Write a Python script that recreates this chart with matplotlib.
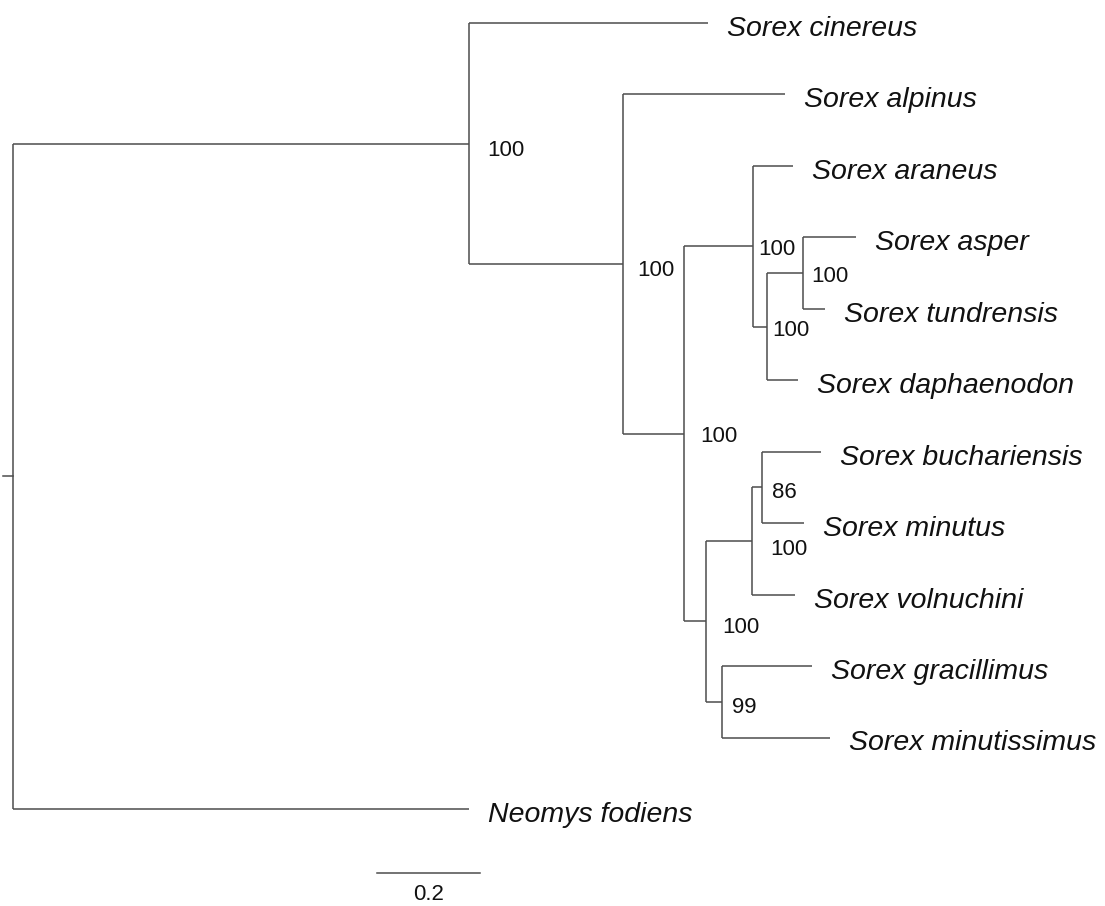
import matplotlib
matplotlib.use("Agg")
import matplotlib.pyplot as plt

# ---- tree data (branch lengths, scale bar = 0.2) ----
# internal nodes: name, parent, branch length, bootstrap support
node_names   = ["root", "A", "B", "C", "D", "E", "F", "G", "H", "I", "K"]
node_parent  = [None, "root", "A", "B", "C", "D", "E", "C", "G", "H", "G"]
node_length  = [0.0, 0.878, 0.296, 0.117, 0.133, 0.027, 0.069, 0.042, 0.090, 0.019, 0.031]
node_support = [None, "100", "100", "100", "100", "100", "100", "100", "100", "86", "99"]

# tips, in drawing order from top to bottom
tip_names  = ["Sorex cinereus", "Sorex alpinus", "Sorex araneus", "Sorex asper",
              "Sorex tundrensis", "Sorex daphaenodon", "Sorex buchariensis",
              "Sorex minutus", "Sorex volnuchini", "Sorex gracillimus",
              "Sorex minutissimus", "Neomys fodiens"]
tip_parent = ["A", "B", "D", "F", "F", "E", "I", "I", "H", "K", "K", "root"]
tip_length = [0.460, 0.312, 0.077, 0.102, 0.042, 0.060, 0.113, 0.081, 0.081,
              0.173, 0.208, 0.878]

scale_len = 0.2

# support label nudges (pixels right of node, pixels of baseline below node)
label_dx = {"A": 18, "B": 14, "C": 16, "D": 5, "E": 5, "F": 8,
            "G": 17, "H": 18, "I": 10, "K": 10}
label_dy = {"A": 12, "B": 12, "C": 8.5, "D": 9, "E": 9.5, "F": 9,
            "G": 12, "H": 13.5, "I": 10.5, "K": 11}

LINE = "#4d4d4d"
TXT = "#111111"

# x position (depth) of every node and tip
xpos = {}
for name, par, ln in zip(node_names, node_parent, node_length):
    xpos[name] = ln if par is None else xpos[par] + ln
for name, par, ln in zip(tip_names, tip_parent, tip_length):
    xpos[name] = xpos[par] + ln

# children lists
children = {n: [] for n in node_names}
for name, par in zip(node_names, node_parent):
    if par is not None:
        children[par].append(name)
for name, par in zip(tip_names, tip_parent):
    children[par].append(name)

# y position: tips evenly spaced, internal node = middle of its children
ypos = {name: i for i, name in enumerate(tip_names)}
def get_y(n):
    if n not in ypos:
        ys = [get_y(c) for c in children[n]]
        ypos[n] = (min(ys) + max(ys)) / 2.0
    return ypos[n]
for n in node_names:
    get_y(n)

fig = plt.figure(figsize=(11.05, 9.06), dpi=100)
ax = fig.add_axes([0, 0, 1, 1])
ax.set_xlim(-12.5 / 520, (1105 - 12.5) / 520)
ax.set_ylim((906 - 23) / 71.45, -23 / 71.45)
ax.axis("off")

# edges: vertical at each internal node, horizontal to every child
for n in node_names:
    ys = [ypos[c] for c in children[n]]
    ax.plot([xpos[n], xpos[n]], [min(ys), max(ys)], color=LINE, lw=1.1,
            solid_capstyle="butt")
    for c in children[n]:
        ax.plot([xpos[n], xpos[c]], [ypos[c], ypos[c]], color=LINE, lw=1.1,
                solid_capstyle="butt")

# short root edge
ax.plot([xpos["root"] - 0.019, xpos["root"]], [ypos["root"]] * 2, color=LINE, lw=1.1)

# tip labels
for name in tip_names:
    ax.annotate(name, (xpos[name], ypos[name]), xytext=(19, -13),
                textcoords="offset pixels", ha="left", va="baseline",
                fontsize=20.5, fontstyle="italic", family="Liberation Sans",
                color=TXT)

# support values
for name, sup in zip(node_names, node_support):
    if sup is None:
        continue
    ax.annotate(sup, (xpos[name], ypos[name]),
                xytext=(label_dx[name], -label_dy[name]),
                textcoords="offset pixels", ha="left", va="baseline",
                fontsize=16, family="Liberation Sans", color=TXT)

# scale bar
sb_x = 0.7
sb_y = (873 - 23) / 71.45
ax.plot([sb_x, sb_x + scale_len], [sb_y, sb_y], color=LINE, lw=1.1)
ax.annotate(f"{scale_len:g}", (sb_x + scale_len / 2, sb_y), xytext=(0, -27),
            textcoords="offset pixels", ha="center", va="baseline",
            fontsize=16, family="Liberation Sans", color=TXT)

fig.savefig("out.png", dpi=100)
